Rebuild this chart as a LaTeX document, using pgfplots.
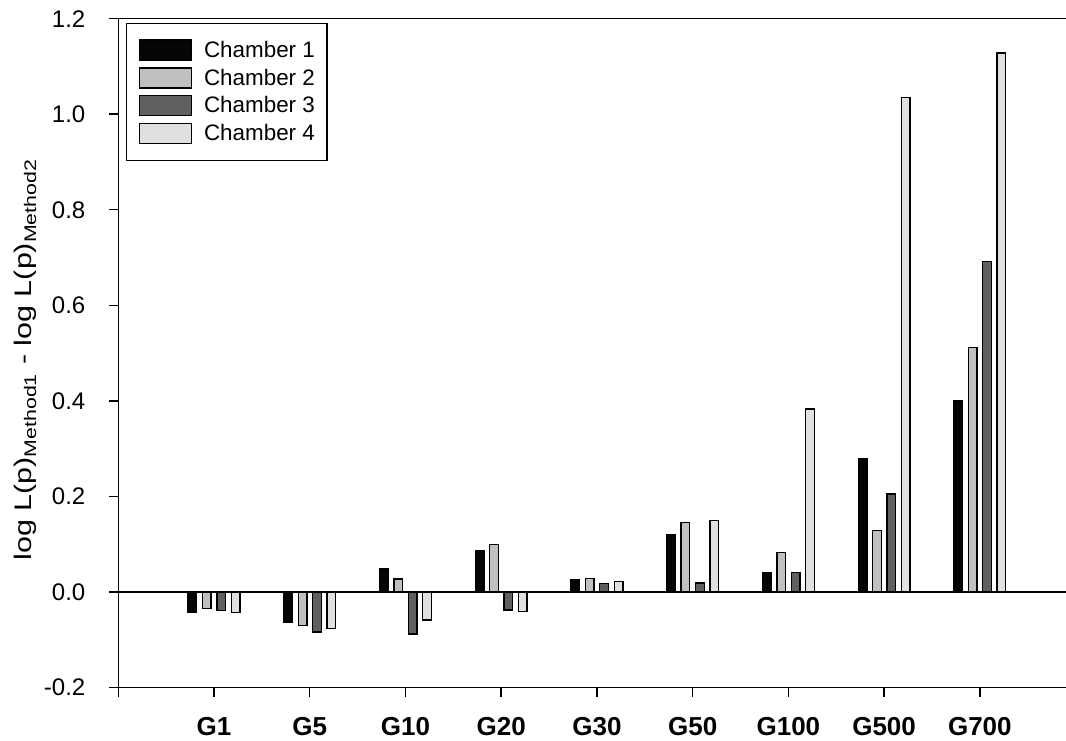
\documentclass[border=0pt]{standalone}
\usepackage{fontspec}
\setmainfont{Liberation Sans}
\usepackage{pgfplots}
\pgfplotsset{compat=1.18}
\usetikzlibrary{calc}
\definecolor{cA}{RGB}{5,5,5}
\definecolor{cB}{RGB}{192,192,192}
\definecolor{cC}{RGB}{96,96,96}
\definecolor{cD}{RGB}{224,224,224}
\begin{document}
\begin{tikzpicture}
\begin{axis}[
  name=ax,
  scale only axis,
  width=710.8pt, height=501.6pt,
  xmin=-1, xmax=8.9,
  ymin=-0.2, ymax=1.2,
  axis x line*=bottom, axis y line*=left,
  axis line style={line width=1.1pt},
  every tick/.style={black, line width=1.1pt},
  tick align=outside,
  major tick length=7pt,
  xtick={0,...,8},
  xticklabels={G1,G5,G10,G20,G30,G50,G100,G500,G700},
  xticklabel style={font=\fontsize{19.5}{21}\selectfont\bfseries, inner sep=0pt, anchor=north, yshift=-15pt},
  ytick={-0.2,0,0.2,0.4,0.6,0.8,1.0,1.2},
  yticklabel style={font=\fontsize{18}{20}\selectfont, inner sep=0pt, anchor=east, xshift=-17.5pt},
  /pgf/number format/assume math mode=true,
  y tick label style={/pgf/number format/.cd, fixed, fixed zerofill, precision=1},
  ylabel={log L(p)\textsubscript{Method1} - log L(p)\textsubscript{Method2}},
  ylabel style={font=\fontsize{18}{20}\selectfont, at={(rel axis cs:0,0.5)}, anchor=north, inner sep=0pt, yshift=78pt, xshift=-5pt, xscale=1.27},
  legend style={at={(rel axis cs:0,1)}, anchor=north west, xshift=5.8pt, yshift=-3pt,
    draw=black, line width=1.1pt, inner xsep=9pt, inner ysep=12pt, row sep=4.9pt,
    font=\fontsize{16.8}{18}\selectfont,
    nodes={inner sep=0pt, anchor=west},
    /tikz/every odd column/.append style={column sep=9pt}},
  legend cell align=left,
]
\draw[line width=0.9pt] (axis cs:-1,0) -- (axis cs:8.9,0);
\addplot[ybar, bar width=6.5pt, bar shift=-16.2pt, fill=cA, draw=black, line width=1pt,
  legend image code/.code={\draw[fill=cA, draw=black, line width=1pt] (0pt,-7.5pt) rectangle (39pt,7.5pt);}]
  coordinates {(0,-0.042) (1,-0.063) (2,0.048) (3,0.086) (4,0.026) (5,0.119) (6,0.040) (7,0.278) (8,0.400)};
\addlegendentry{Chamber 1}
\addplot[ybar, bar width=6.5pt, bar shift=-5.4pt, fill=cB, draw=black, line width=1pt,
  legend image code/.code={\draw[fill=cB, draw=black, line width=1pt] (0pt,-7.5pt) rectangle (39pt,7.5pt);}]
  coordinates {(0,-0.035) (1,-0.070) (2,0.027) (3,0.099) (4,0.028) (5,0.145) (6,0.082) (7,0.129) (8,0.512)};
\addlegendentry{Chamber 2}
\addplot[ybar, bar width=6.5pt, bar shift=5.4pt, fill=cC, draw=black, line width=1pt,
  legend image code/.code={\draw[fill=cC, draw=black, line width=1pt] (0pt,-7.5pt) rectangle (39pt,7.5pt);}]
  coordinates {(0,-0.039) (1,-0.084) (2,-0.088) (3,-0.038) (4,0.017) (5,0.019) (6,0.040) (7,0.205) (8,0.692)};
\addlegendentry{Chamber 3}
\addplot[ybar, bar width=6.5pt, bar shift=16.2pt, fill=cD, draw=black, line width=1pt,
  legend image code/.code={\draw[fill=cD, draw=black, line width=1pt] (0pt,-7.5pt) rectangle (39pt,7.5pt);}]
  coordinates {(0,-0.043) (1,-0.077) (2,-0.059) (3,-0.041) (4,0.022) (5,0.149) (6,0.383) (7,1.035) (8,1.128)};
\addlegendentry{Chamber 4}
\end{axis}
\draw[line width=1.1pt] (ax.north west) -- (ax.north east);
\draw[line width=1.1pt] (ax.south west) -- ++(0,-7pt);
\pgfresetboundingbox
\path[use as bounding box] ($(ax.south west)+(-88.7pt,-39.4pt)$) rectangle ($(ax.north east)+(0pt,14pt)$);
\end{tikzpicture}
\end{document}
